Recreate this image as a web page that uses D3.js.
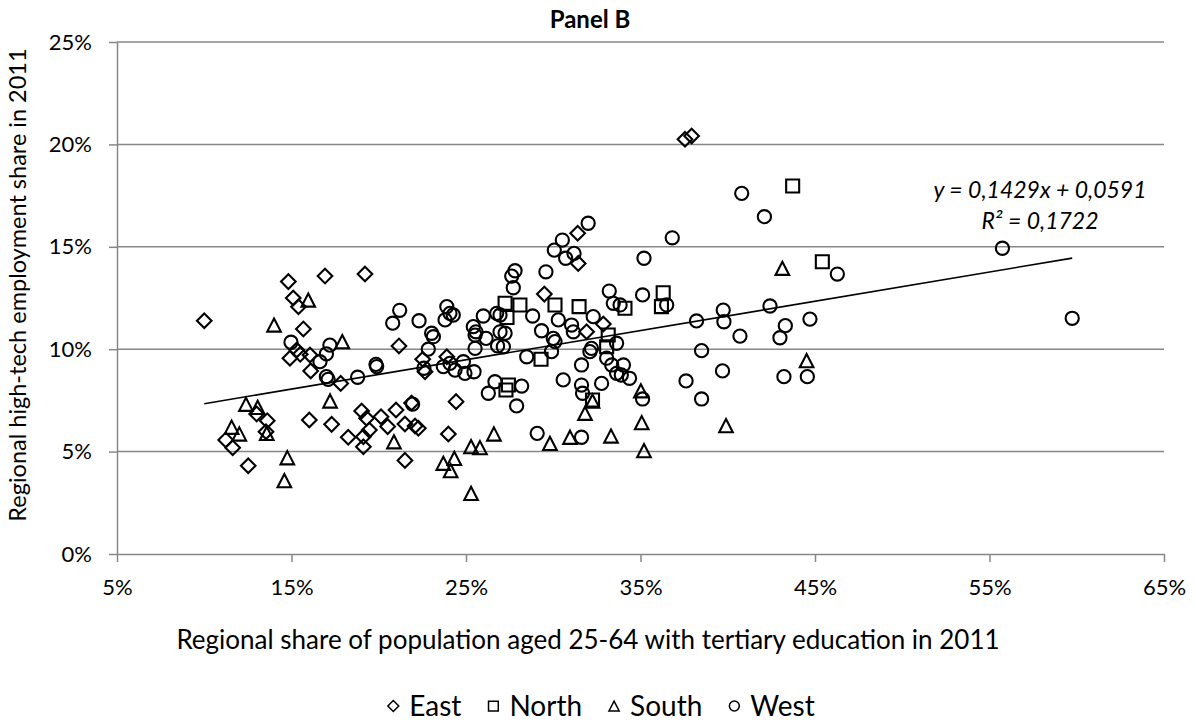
<!DOCTYPE html>
<html>
<head>
<meta charset="utf-8">
<script src="https://cdn.jsdelivr.net/npm/d3@7"></script>
<style>
  body { margin: 0; background: #fff; }
  svg { display: block; font-family: Lato, "Open Sans", sans-serif; }
</style>
</head>
<body>
<svg id="chart" width="1196" height="727"></svg>
<script>
// values in percent: [tertiary education share, high-tech employment share]
var east_points = [
  [10.0, 11.39], [14.82, 13.30], [16.92, 13.57], [19.21, 13.67], [15.1, 12.5], [15.4, 12.07],
  [15.68, 10.99], [14.91, 9.56], [15.3, 9.96], [15.5, 9.75], [16.06, 9.72], [16.1, 8.94],
  [17.82, 8.33], [13.0, 6.84], [13.61, 6.51], [11.23, 5.57], [11.63, 5.19], [13.54, 5.97],
  [12.52, 4.31], [16.02, 6.54], [17.3, 6.33], [18.25, 5.70], [19.02, 6.98], [19.3, 6.63],
  [19.12, 5.73], [19.12, 5.24], [19.46, 6.05], [20.13, 6.70], [20.51, 6.22], [20.99, 7.03],
  [21.16, 10.16], [22.52, 9.51], [22.65, 8.9], [23.9, 9.63], [21.88, 7.37], [24.43, 7.44],
  [21.5, 6.35], [22.08, 6.25], [22.27, 6.14], [23.99, 5.86], [21.5, 4.57], [31.4, 15.66],
  [31.43, 14.19], [29.49, 12.69], [31.91, 10.85], [32.87, 11.23], [37.55, 20.25], [37.93, 20.41]
];
var north_points = [
  [27.24, 12.24], [28.09, 12.16], [30.1, 12.16], [31.48, 12.08], [27.35, 11.55], [33.15, 10.69],
  [33.06, 10.12], [29.3, 9.51], [32.25, 7.52], [27.43, 8.25], [27.29, 8.01], [43.72, 17.97],
  [45.42, 14.27], [36.3, 12.76], [34.11, 12.0], [36.2, 12.08]
];
var south_points = [
  [14.0, 11.18], [15.96, 12.4], [17.91, 10.37], [12.39, 7.31], [13.06, 7.16], [11.57, 6.19],
  [12.01, 5.86], [13.58, 5.89], [14.76, 4.70], [14.59, 3.58], [17.21, 7.47], [20.87, 5.48],
  [26.6, 5.86], [25.29, 5.24], [25.8, 5.19], [23.7, 4.43], [24.33, 4.67], [24.12, 4.07],
  [25.29, 2.96], [29.81, 5.40], [30.96, 5.70], [33.31, 5.76], [32.25, 7.47], [31.82, 6.87],
  [35.02, 7.97], [35.07, 6.41], [35.2, 5.05], [39.9, 6.27], [44.52, 9.44], [43.13, 13.95]
];
var west_points = [
  [14.97, 10.34], [16.63, 9.39], [17.0, 9.77], [17.2, 10.2], [17.0, 8.66], [17.1, 8.53],
  [18.79, 8.63], [19.84, 9.26], [19.88, 9.15], [20.8, 11.27], [21.2, 11.9], [23.9, 12.08],
  [24.08, 11.75], [24.27, 11.67], [23.8, 11.43], [22.31, 11.39], [23.03, 10.78], [23.13, 10.61],
  [22.84, 10.0], [22.59, 9.07], [23.7, 9.15], [24.08, 9.31], [24.37, 8.98], [24.85, 9.39],
  [24.94, 8.82], [25.46, 8.90], [25.42, 11.1], [25.57, 10.85], [25.52, 10.69], [25.99, 11.62],
  [26.15, 10.53], [25.52, 10.04], [26.76, 11.75], [26.95, 11.67], [26.95, 10.85], [27.24, 10.78],
  [26.81, 10.16], [27.14, 10.12], [28.82, 11.62], [29.33, 10.9], [30.29, 11.43], [30.0, 10.53],
  [30.1, 10.37], [29.9, 9.88], [31.05, 11.18], [31.15, 10.85], [32.29, 11.59], [32.19, 10.04],
  [32.1, 9.88], [33.06, 9.56], [33.35, 9.23], [33.63, 8.82], [28.48, 9.63], [31.62, 9.23],
  [30.57, 8.50], [31.62, 8.25], [31.68, 7.85], [32.77, 8.33], [26.66, 8.41], [26.28, 7.85],
  [28.19, 8.20], [27.9, 7.23], [21.94, 7.32], [29.08, 5.89], [31.62, 5.70], [32.0, 16.15],
  [30.52, 15.33], [30.06, 14.84], [31.19, 14.68], [30.71, 14.44], [29.58, 13.78], [27.81, 13.83],
  [27.62, 13.57], [27.71, 13.0], [33.21, 12.84], [40.8, 17.61], [42.1, 16.47], [36.82, 15.44],
  [35.2, 14.44], [46.28, 13.67], [35.12, 12.65], [33.44, 12.24], [33.83, 12.16], [36.5, 12.16],
  [38.21, 11.38], [39.74, 11.91], [39.78, 11.34], [42.42, 12.11], [44.71, 11.47], [43.3, 11.15],
  [42.99, 10.56], [40.7, 10.64], [33.63, 10.29], [34.02, 9.23], [34.37, 8.58], [33.9, 8.74],
  [38.5, 9.93], [39.7, 8.94], [37.61, 8.45], [38.5, 7.57], [35.12, 7.57], [43.22, 8.66],
  [44.56, 8.66], [55.74, 14.93], [59.74, 11.51]
];

var series_names = ["East", "North", "South", "West"];
var x_ticks = [5, 15, 25, 35, 45, 55, 65];
var y_ticks = [0, 5, 10, 15, 20, 25];

// linear trend as printed on the chart (y in percent)
var trend_slope = 0.1429;
var trend_intercept = 5.91;
var trend_text = ["y = 0,1429x + 0,0591", "R² = 0,1722"];

var plot = { left: 117, right: 1164, top: 42, bottom: 554 };
var grid_color = "#878787";

var svg = d3.select("#chart");

var x = d3.scaleLinear().domain([5, 65]).range([plot.left, plot.right]);
var y = d3.scaleLinear().domain([0, 25]).range([plot.bottom, plot.top]);

// horizontal gridlines
svg.append("g")
  .selectAll("line")
  .data(y_ticks.slice(1))
  .join("line")
  .attr("x1", plot.left).attr("x2", plot.right)
  .attr("y1", function (d) { return y(d); })
  .attr("y2", function (d) { return y(d); })
  .attr("stroke", grid_color)
  .attr("stroke-width", 1.5);

var fmt = function (d) { return d + "%"; };

var gy = svg.append("g")
  .attr("transform", "translate(" + plot.left + ",0)")
  .call(d3.axisLeft(y).tickValues(y_ticks).tickSize(8).tickSizeOuter(0).tickPadding(17).tickFormat(fmt));

var gx = svg.append("g")
  .attr("transform", "translate(0," + plot.bottom + ")")
  .call(d3.axisBottom(x).tickValues(x_ticks).tickSize(8).tickSizeOuter(0).tickPadding(17).tickFormat(fmt));

[gx, gy].forEach(function (g) {
  g.select(".domain").attr("stroke", grid_color).attr("stroke-width", 1.5);
  g.selectAll(".tick line").attr("stroke", grid_color).attr("stroke-width", 1.5);
  g.selectAll(".tick text").attr("fill", "#000").style("font-size", "22px").style("font-family", "Lato, sans-serif");
});

// trend line over the range of the data
var all_x = east_points.concat(north_points, south_points, west_points).map(function (p) { return p[0]; });
var x_min = d3.min(all_x), x_max = d3.max(all_x);
svg.append("line")
  .attr("x1", x(x_min)).attr("y1", y(trend_slope * x_min + trend_intercept))
  .attr("x2", x(x_max)).attr("y2", y(trend_slope * x_max + trend_intercept))
  .attr("stroke", "#000")
  .attr("stroke-width", 1.6);

// marker shapes
function marker_path(name, scale) {
  if (name == "East") {
    var h = 7.3 * scale;
    return "M0," + (-h) + "L" + h + ",0L0," + h + "L" + (-h) + ",0Z";
  }
  if (name == "North") {
    var s = 6.5 * scale;
    return "M" + (-s) + "," + (-s) + "H" + s + "V" + s + "H" + (-s) + "Z";
  }
  if (name == "South") {
    var w = 6.8 * scale, t = 6.6 * scale;
    return "M0," + (-t) + "L" + w + "," + t + "L" + (-w) + "," + t + "Z";
  }
  var r = 6.6 * scale;
  return "M" + r + ",0A" + r + "," + r + " 0 1,1 " + (-r) + ",0A" + r + "," + r + " 0 1,1 " + r + ",0Z";
}

var series_points = [east_points, north_points, south_points, west_points];

series_points.forEach(function (pts, i) {
  svg.append("g")
    .selectAll("path")
    .data(pts)
    .join("path")
    .attr("d", marker_path(series_names[i], 1))
    .attr("transform", function (d) { return "translate(" + x(d[0]) + "," + y(d[1]) + ")"; })
    .attr("fill", "none")
    .attr("stroke", "#000")
    .attr("stroke-width", 2.1);
});

// trend equation
var eq = svg.append("text")
  .attr("text-anchor", "middle")
  .style("font-style", "italic")
  .style("font-size", "23px");
eq.append("tspan").attr("x", 1040).attr("y", 198).text(trend_text[0]);
eq.append("tspan").attr("x", 1040).attr("y", 229).text(trend_text[1]);

// titles
svg.append("text")
  .attr("x", 590).attr("y", 28)
  .attr("text-anchor", "middle")
  .style("font-weight", "bold")
  .style("font-size", "24px")
  .text("Panel B");

svg.append("text")
  .attr("x", 588).attr("y", 649)
  .attr("text-anchor", "middle")
  .style("font-size", "26px")
  .text("Regional share of population aged 25-64 with tertiary education in 2011");

svg.append("text")
  .attr("transform", "translate(26,285) rotate(-90)")
  .attr("text-anchor", "middle")
  .style("font-size", "23.5px")
  .text("Regional high-tech employment share in 2011");

// legend
var legend = svg.append("g");
var lx = 0;
series_names.forEach(function (name) {
  var item = legend.append("g").attr("transform", "translate(" + lx + ",0)");
  item.append("path")
    .attr("d", marker_path(name, 0.75))
    .attr("fill", "none")
    .attr("stroke", "#000")
    .attr("stroke-width", 1.5);
  var t = item.append("text")
    .attr("x", 16).attr("y", 10)
    .style("font-size", "28px")
    .text(name);
  lx += 16 + t.node().getComputedTextLength() + 32;
});
lx -= 32;
legend.attr("transform", "translate(" + (598 - lx / 2 + 6) + ",706)");
</script>
</body>
</html>
